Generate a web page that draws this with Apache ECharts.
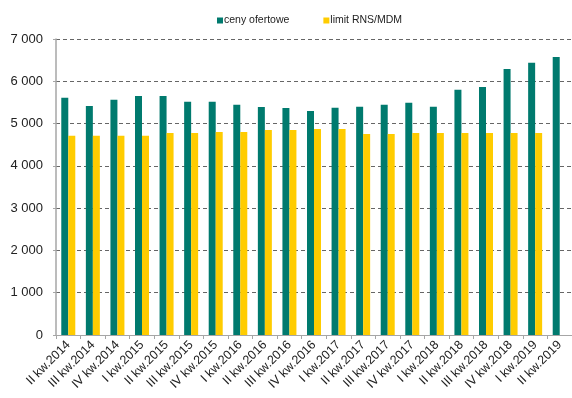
<!DOCTYPE html>
<html>
<head>
<meta charset="utf-8">
<script src="https://cdn.jsdelivr.net/npm/echarts@6/dist/echarts.min.js"></script>
<style>
  html, body { margin: 0; padding: 0; background: #fff; }
  #chart { width: 572px; height: 398px; }
</style>
</head>
<body>
<div id="chart"></div>
<script>
// Quarterly offer prices vs. the RNS/MDM programme limit (PLN per m²)
const categories = [
  'II kw.2014', 'III kw.2014', 'IV kw.2014',
  'I kw.2015', 'II kw.2015', 'III kw.2015', 'IV kw.2015',
  'I kw.2016', 'II kw.2016', 'III kw.2016', 'IV kw.2016',
  'I kw.2017', 'II kw.2017', 'III kw.2017', 'IV kw.2017',
  'I kw.2018', 'II kw.2018', 'III kw.2018', 'IV kw.2018',
  'I kw.2019', 'II kw.2019'
];
const cenyOfertowe = [
  5610, 5414, 5563, 5650, 5650, 5515, 5515, 5444, 5390, 5366, 5296,
  5374, 5397, 5444, 5492, 5397, 5799, 5863, 6288, 6437, 6572
];
const limitRnsMdm = [
  4712, 4712, 4712, 4712, 4775, 4775, 4799, 4799, 4846, 4846, 4870,
  4870, 4752, 4752, 4775, 4775, 4775, 4775, 4775, 4775, null
];
const seriesNames = ['ceny ofertowe', 'limit RNS/MDM'];
const yTicks = { min: 0, max: 7000, interval: 1000 };

const font = '"Liberation Sans", Arial, sans-serif';
const chart = echarts.init(document.getElementById('chart'), null, { renderer: 'canvas' });

chart.setOption({
  animation: false,
  backgroundColor: '#ffffff',
  legend: {
    data: seriesNames,
    left: 212,
    top: 10,
    icon: 'rect',
    itemWidth: 6,
    itemHeight: 6,
    itemGap: 34,
    textStyle: { fontFamily: font, fontSize: 10.5, color: '#222', padding: [0, 0, 0, -4] }
  },
  grid: { left: 56, right: -1, top: 39, bottom: 63, containLabel: false },
  xAxis: {
    type: 'category',
    data: categories,
    axisLine: { lineStyle: { color: '#a6a6a6', width: 1 } },
    axisTick: { show: true, length: 4, alignWithLabel: false, lineStyle: { color: '#a6a6a6' } },
    axisLabel: {
      interval: 0,
      rotate: 45,
      margin: 8,
      fontFamily: font,
      fontSize: 12.5,
      color: '#222'
    }
  },
  yAxis: {
    type: 'value',
    min: yTicks.min,
    max: yTicks.max,
    interval: yTicks.interval,
    axisLine: { show: true, lineStyle: { color: '#a6a6a6', width: 1.5 } },
    axisTick: { show: true, length: 3, lineStyle: { color: '#a6a6a6' } },
    axisLabel: {
      margin: 13,
      fontFamily: font,
      fontSize: 13,
      color: '#222',
      formatter: v => String(v).replace(/\B(?=(\d{3})+(?!\d))/g, ' ')
    },
    splitLine: { show: true, lineStyle: { color: '#666', type: [4, 3], width: 1 } }
  },
  series: [
    {
      name: seriesNames[0],
      type: 'bar',
      data: cenyOfertowe,
      barWidth: 7,
      barGap: '0%',
      itemStyle: { color: '#007a6e' }
    },
    {
      name: seriesNames[1],
      type: 'bar',
      data: limitRnsMdm,
      barWidth: 7,
      barGap: '0%',
      itemStyle: { color: '#ffcc00' }
    }
  ]
});
</script>
</body>
</html>
